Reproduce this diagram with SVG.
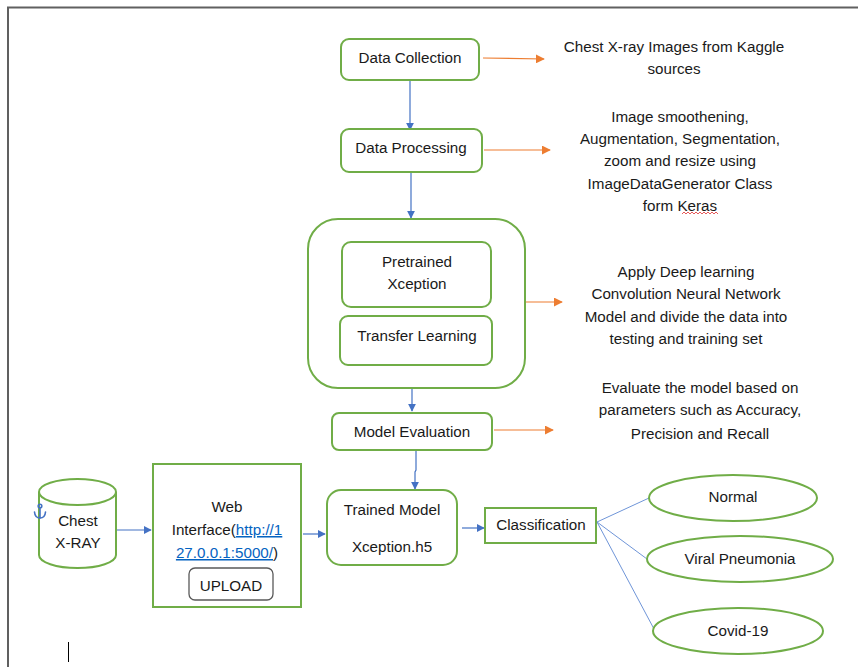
<svg xmlns="http://www.w3.org/2000/svg" width="858" height="667" viewBox="0 0 858 667">
  <defs>
    <style>
      .box { fill: #ffffff; stroke: #70AD47; stroke-width: 2; }
      .btn { fill: #ffffff; stroke: #595959; stroke-width: 1.3; }
      .lbl { font-family: "Liberation Sans", Arial, sans-serif; font-size: 15.2px; fill: #1a1a1a; text-anchor: middle; }
      .note { font-family: "Liberation Sans", Arial, sans-serif; font-size: 15.2px; fill: #1a1a1a; text-anchor: middle; }
      .link { fill: #0563C1; text-decoration: underline; }
      .flow { stroke: #4472C4; stroke-width: 1.2; fill: none; }
      .side { stroke: #ED7D31; stroke-width: 1.2; fill: none; }
      .thin { stroke: #6F95D8; stroke-width: 1; fill: none; }
    </style>
    <marker id="blueHead" viewBox="0 0 10 10" refX="9" refY="5" markerWidth="8" markerHeight="8" markerUnits="userSpaceOnUse" orient="auto">
      <path d="M0,0 L10,5 L0,10 z" fill="#4472C4"/>
    </marker>
    <marker id="orangeHead" viewBox="0 0 10 10" refX="9" refY="5" markerWidth="9" markerHeight="9" markerUnits="userSpaceOnUse" orient="auto">
      <path d="M0,0 L10,5 L0,10 z" fill="#ED7D31"/>
    </marker>
  </defs>

  <rect width="858" height="667" fill="#ffffff"/>

  <!-- page frame -->
  <path d="M8,667 V7.5 H858" fill="none" stroke="#606060" stroke-width="2"/>

  <!-- connectors -->
  <g id="connectors">
    <line class="flow" x1="410" y1="81" x2="410" y2="130" marker-end="url(#blueHead)"/>
    <line class="flow" x1="411" y1="173" x2="411" y2="218" marker-end="url(#blueHead)"/>
    <line class="flow" x1="412" y1="388" x2="412" y2="411" marker-end="url(#blueHead)"/>
    <path class="flow" d="M416,451 V470 L415,472 V489" marker-end="url(#blueHead)"/>
    <line class="flow" x1="114" y1="530" x2="151" y2="530" marker-end="url(#blueHead)"/>
    <line class="flow" x1="303" y1="534" x2="325" y2="534" marker-end="url(#blueHead)"/>
    <line class="flow" x1="462" y1="528" x2="484" y2="528" marker-end="url(#blueHead)"/>
    <line class="side" x1="483" y1="58" x2="544" y2="59" marker-end="url(#orangeHead)"/>
    <line class="side" x1="484" y1="150" x2="550" y2="150" marker-end="url(#orangeHead)"/>
    <line class="side" x1="515" y1="302" x2="562" y2="302" marker-end="url(#orangeHead)"/>
    <line class="side" x1="494" y1="430" x2="553" y2="430" marker-end="url(#orangeHead)"/>
    <line class="thin" x1="597" y1="522" x2="649" y2="498"/>
    <line class="thin" x1="597" y1="522" x2="647" y2="559"/>
    <line class="thin" x1="597" y1="522" x2="654" y2="629"/>
  </g>

  <g id="data-collection">
    <rect class="box" x="341" y="39" width="138" height="41" rx="8"/>
    <text class="lbl" x="410" y="63">Data Collection</text>
  </g>

  <g id="data-collection-note">
    <text class="note" x="674" y="52">Chest X-ray Images from Kaggle</text>
    <text class="note" x="674" y="74">sources</text>
  </g>

  <g id="data-processing">
    <rect class="box" x="341" y="129" width="141" height="43" rx="8"/>
    <text class="lbl" x="411" y="153">Data Processing</text>
  </g>

  <g id="data-processing-note">
    <text class="note" x="680" y="122">Image smoothening,</text>
    <text class="note" x="680" y="144">Augmentation, Segmentation,</text>
    <text class="note" x="680" y="166">zoom and resize using</text>
    <text class="note" x="680" y="189">ImageDataGenerator Class</text>
    <text class="note" x="680" y="211">form Keras</text>
    <path d="M682,214 l2,-2 l2,2 l2,-2 l2,2 l2,-2 l2,2 l2,-2 l2,2 l2,-2 l2,2 l2,-2 l2,2 l2,-2 l2,2 l2,-2 l2,2 l2,-2 l2,2" fill="none" stroke="#E03030" stroke-width="0.8"/>
  </g>

  <g id="model-block">
    <rect class="box" x="308" y="219" width="217" height="169" rx="30"/>
  </g>

  <g id="pretrained-xception">
    <rect class="box" x="342" y="242" width="149" height="65" rx="9"/>
    <text class="lbl" x="417" y="267">Pretrained</text>
    <text class="lbl" x="417" y="289">Xception</text>
  </g>

  <g id="transfer-learning">
    <rect class="box" x="340" y="316" width="152" height="49" rx="8"/>
    <text class="lbl" x="417" y="341">Transfer Learning</text>
  </g>

  <g id="model-block-note">
    <text class="note" x="686" y="277">Apply Deep learning</text>
    <text class="note" x="686" y="299">Convolution Neural Network</text>
    <text class="note" x="686" y="322">Model and divide the data into</text>
    <text class="note" x="686" y="344">testing and training set</text>
  </g>

  <g id="model-evaluation">
    <rect class="box" x="332" y="413" width="160" height="37" rx="7"/>
    <text class="lbl" x="412" y="437">Model Evaluation</text>
  </g>

  <g id="model-evaluation-note">
    <text class="note" x="700" y="393">Evaluate the model based on</text>
    <text class="note" x="700" y="415">parameters such as Accuracy,</text>
    <text class="note" x="700" y="439">Precision and Recall</text>
  </g>

  <g id="chest-xray">
    <path class="box" d="M39,492 V555 A38.5,13 0 0 0 116,555 V492"/>
    <ellipse class="box" cx="77.5" cy="492" rx="38.5" ry="13"/>
    <text class="lbl" x="78" y="526">Chest</text>
    <text class="lbl" x="78" y="548">X-RAY</text>
    <!-- anchor mark -->
    <g fill="none" stroke="#4472C4" stroke-width="1.6" stroke-linecap="round">
      <circle cx="40" cy="506" r="1.8"/>
      <line x1="40" y1="508" x2="40" y2="518"/>
      <path d="M34.5,512 Q35,518 40,518 Q45,518 45.5,512"/>
    </g>
  </g>

  <g id="web-interface">
    <rect class="box" x="153" y="464" width="148" height="143"/>
    <text class="lbl" x="227" y="512">Web</text>
    <text class="lbl" x="227" y="535">Interface(<tspan class="link">http://1</tspan></text>
    <text class="lbl" x="227" y="558"><tspan class="link">27.0.0.1:5000/</tspan>)</text>
  </g>

  <g id="upload">
    <rect class="btn" x="189" y="568" width="84" height="32" rx="6"/>
    <text class="lbl" x="231" y="591">UPLOAD</text>
  </g>

  <g id="trained-model">
    <rect class="box" x="327" y="490" width="130" height="75" rx="14"/>
    <text class="lbl" x="392" y="515">Trained Model</text>
    <text class="lbl" x="392" y="552">Xception.h5</text>
  </g>

  <g id="classification">
    <rect class="box" x="485" y="508" width="111" height="35"/>
    <text class="lbl" x="541" y="530">Classification</text>
  </g>

  <g id="normal">
    <ellipse class="box" cx="733" cy="498" rx="84" ry="23"/>
    <text class="lbl" x="733" y="502">Normal</text>
  </g>

  <g id="viral-pneumonia">
    <ellipse class="box" cx="740" cy="559" rx="93" ry="23"/>
    <text class="lbl" x="740" y="564">Viral Pneumonia</text>
  </g>

  <g id="covid-19">
    <ellipse class="box" cx="738" cy="631" rx="85" ry="23"/>
    <text class="lbl" x="738" y="636">Covid-19</text>
  </g>

  <!-- text cursor -->
  <line x1="68.5" y1="642" x2="68.5" y2="662" stroke="#000000" stroke-width="1"/>
</svg>
